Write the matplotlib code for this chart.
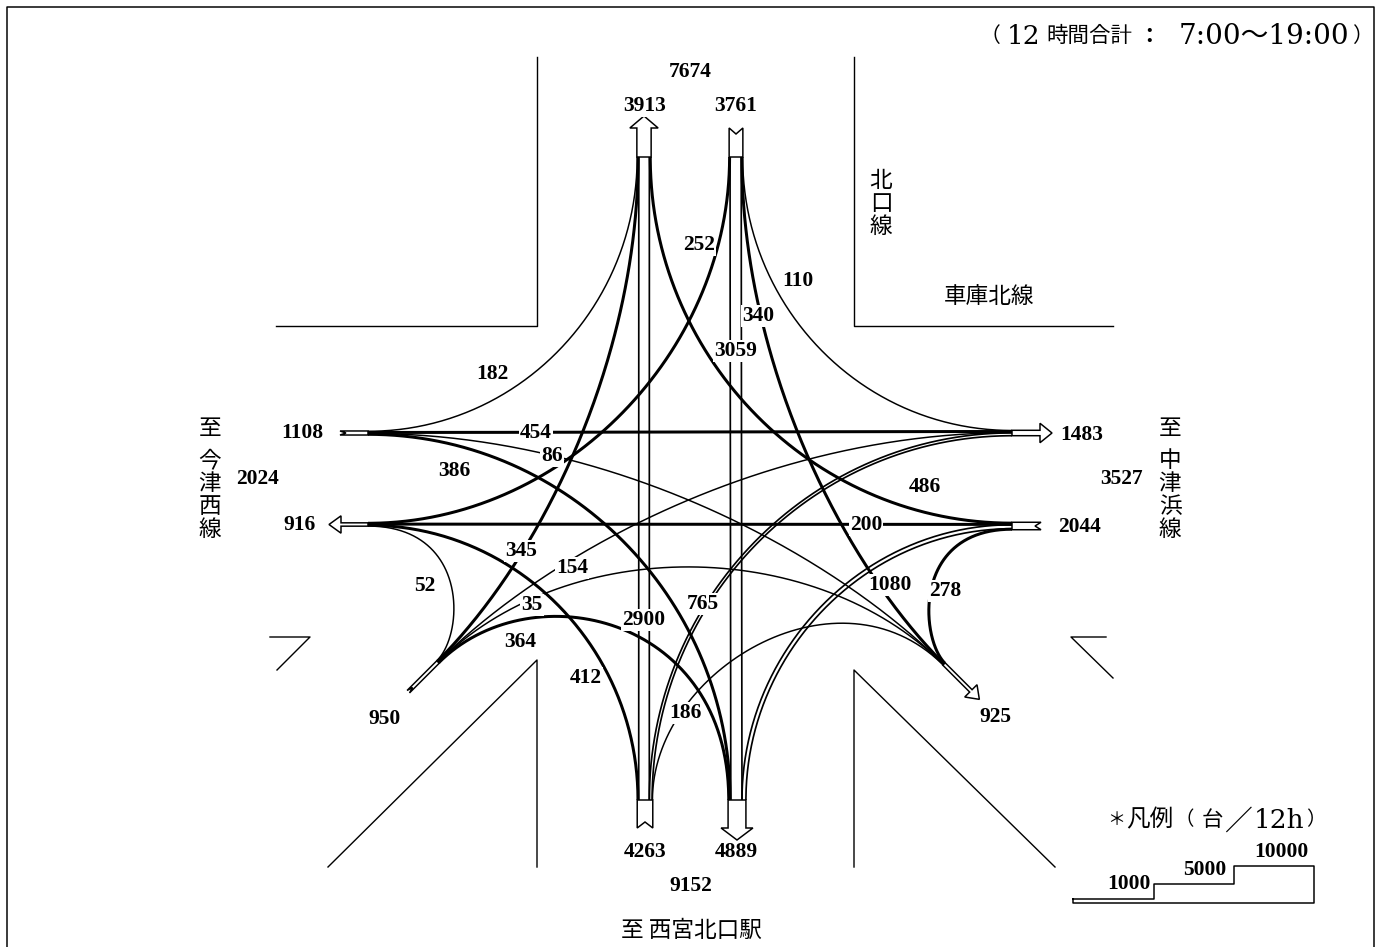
import numpy as np
import matplotlib
matplotlib.use("Agg")
import matplotlib.pyplot as plt

# 12 hour turning volumes: origin, destination, vehicles
flow_from = ["N_in", "N_in", "N_in", "N_in",
             "W_in", "W_in", "W_in", "W_in",
             "E_in", "E_in", "E_in", "E_in",
             "S_in", "S_in", "S_in", "S_in",
             "SW_in", "SW_in", "SW_in", "SW_in", "SW_in"]
flow_to = ["S_out", "W_out", "E_out", "SE_out",
           "N_out", "E_out", "SE_out", "S_out",
           "N_out", "W_out", "S_out", "SE_out",
           "N_out", "W_out", "E_out", "SE_out",
           "W_out", "E_out", "SE_out", "S_out", "N_out"]
flow_vol = [3059, 252, 110, 340,
            182, 454, 86, 386,
            486, 200, 1080, 278,
            2900, 412, 765, 186,
            52, 154, 35, 364, 345]

legend_vals = [1000, 5000, 10000]

# order of the flows across each port
port_order = {
    "N_out": [182, 345, 2900, 486],
    "N_in": [252, 3059, 340, 110],
    "S_in": [412, 2900, 765, 186],
    "S_out": [364, 386, 3059, 1080],
    "W_in": [182, 454, 86, 386],
    "W_out": [252, 200, 412, 52],
    "E_out": [110, 454, 154, 765],
    "E_in": [486, 200, 1080, 278],
    "SW_in": [52, 345, 154, 35, 364],
    "SE_out": [278, 340, 86, 35, 186],
}

# layout of the diagram, in image pixels
PX_PER_VEH = 3.65 / 1000
r2 = np.sqrt(0.5)
ports = {  # centre, outward direction, across direction, shaft length
    "N_out": ((644, 157), (0, -1), (1, 0), 29),
    "N_in": ((736, 157), (0, -1), (1, 0), 29),
    "S_in": ((645, 800), (0, 1), (1, 0), 28),
    "S_out": ((737, 800), (0, 1), (1, 0), 28),
    "W_in": ((368, 433), (-1, 0), (0, 1), 28),
    "W_out": ((368, 524.5), (-1, 0), (0, 1), 27),
    "E_out": ((1012, 433), (1, 0), (0, 1), 28),
    "E_in": ((1012, 526), (1, 0), (0, 1), 29),
    "SW_in": ((438, 662), (-r2, r2), (r2, r2), 42),
    "SE_out": ((944, 664), (r2, r2), (-r2, r2), 38),
}
out_ports = ["N_out", "S_out", "W_out", "E_out", "SE_out"]

# bezier handle lengths per volume: at origin, at destination
handles = {
    3059: (200, 200), 252: (195, 195), 110: (150, 150), 340: (200, 150),
    182: (150, 150), 454: (200, 200), 86: (250, 150), 386: (200, 200),
    486: (200, 200), 200: (200, 200), 1080: (148, 148), 278: (100, 35),
    2900: (200, 200), 412: (150, 150), 765: (200, 200), 186: (130, 148),
    52: (40, 100), 154: (150, 250), 35: (182, 182), 364: (130, 185), 345: (150, 200),
}

label_pos = {
    "7674": (690, 72), "3913": (645, 106), "3761": (736, 106), "252": (699, 245),
    "110": (798, 281), "340": (758, 316), "3059": (736, 351), "182": (492, 374),
    "1108": (302, 433), "454": (536, 433), "1483": (1082, 435), "86": (552, 456),
    "386": (454, 471), "486": (925, 487), "3527": (1122, 479), "2024": (258, 479),
    "916": (300, 525), "200": (866, 525), "2044": (1080, 527), "345": (521, 551),
    "154": (572, 568), "1080": (890, 585), "278": (945, 591), "52": (425, 586),
    "35": (532, 605), "765": (703, 604), "2900": (644, 620), "364": (520, 642),
    "412": (586, 678), "186": (685, 713), "950": (385, 719), "925": (995, 717),
    "4263": (645, 852), "4889": (736, 852), "9152": (691, 886),
}

LW = 0.72  # points per pixel at dpi 100
SERIF = "Liberation Serif"
CJK = ["Noto Sans CJK JP", "DejaVu Sans"]
WIDE = ["DejaVu Serif", "Noto Sans CJK JP"]

fig = plt.figure(figsize=(13.81, 9.47), dpi=100)
ax = fig.add_axes([0, 0, 1, 1])
ax.set_xlim(0, 1381)
ax.set_ylim(947, 0)
ax.axis("off")

# frame
ax.plot([7, 7, 1374, 1374], [947, 7, 7, 947], color="k", lw=1.5 * LW)

# kerbs
kerbs = [
    ([537, 537, 276], [57, 326, 326]),
    ([854, 854, 1113], [57, 326, 326]),
    ([270, 310, 277], [637, 637, 670]),
    ([1106, 1071, 1113], [637, 637, 678]),
    ([328, 537, 537], [867, 660, 867]),
    ([1055, 854, 854], [867, 670, 867]),
]
for kx, ky in kerbs:
    ax.plot(kx, ky, color="k", lw=1.4 * LW)


def port_offset(port, vol):
    # centre of this flow inside the stacked port, measured across it
    order = port_order[port]
    widths = [v * PX_PER_VEH for v in order]
    total = sum(widths)
    i = order.index(vol)
    return sum(widths[:i]) + widths[i] / 2 - total / 2


def flow_curve(a, b, vol):
    ca, da, na, _ = ports[a]
    cb, db, nb, _ = ports[b]
    p0 = np.array(ca, float) + np.array(na) * port_offset(a, vol)
    p3 = np.array(cb, float) + np.array(nb) * port_offset(b, vol)
    h0, h1 = handles[vol]
    p1 = p0 - np.array(da) * h0
    p2 = p3 - np.array(db) * h1
    t = np.linspace(0, 1, 200)[:, None]
    return (1 - t) ** 3 * p0 + 3 * (1 - t) ** 2 * t * p1 + 3 * (1 - t) * t ** 2 * p2 + t ** 3 * p3


# arrow shafts and tails first
for name, (c, d, n, length) in ports.items():
    c = np.array(c, float)
    d = np.array(d, float)
    n = np.array(n, float)
    w = sum(port_order[name]) * PX_PER_VEH / 2
    end = c + d * length
    if name in out_ports:
        pts = [c - n * w, end - n * w, end - n * (w + 7), end + d * 12,
               end + n * (w + 7), end + n * w, c + n * w]
    else:
        pts = [c - n * w, end - n * w, end - d * 6, end + n * w, c + n * w]
    pts = np.array(pts)
    ax.fill(pts[:, 0], pts[:, 1], facecolor="white", edgecolor="k", lw=1.5 * LW, zorder=3)

# flows
for a, b, vol in zip(flow_from, flow_to, flow_vol):
    xy = flow_curve(a, b, vol)
    w = vol * PX_PER_VEH
    if vol >= 700:
        # big flows are two parallel lines, open in between
        tan = np.gradient(xy, axis=0)
        tan = tan / np.linalg.norm(tan, axis=1, keepdims=True)
        nrm = np.column_stack([-tan[:, 1], tan[:, 0]])
        for side in (-0.5, 0.5):
            off = xy + nrm * w * side
            ax.plot(off[:, 0], off[:, 1], color="k", lw=1.7 * LW, solid_capstyle="butt", zorder=4)
    else:
        lw = 3.0 if vol >= 200 else 1.5
        ax.plot(xy[:, 0], xy[:, 1], color="k", lw=lw * LW, solid_capstyle="butt", zorder=4)

# number labels
for s, (x, y) in label_pos.items():
    ax.text(x, y, s, ha="center", va="center", family=SERIF, weight="bold", fontsize=15.5,
            color="k", zorder=6, bbox=dict(facecolor="white", edgecolor="none", pad=0.8))

# road names, written vertically in the original
name_kw = dict(ha="center", va="center", family=CJK, fontsize=16.3, zorder=6)
ax.text(210, 428, "至", **name_kw)
ax.text(210, 495, "\n".join("今津西線"), linespacing=1.0, **name_kw)
ax.text(1170, 428, "至", **name_kw)
ax.text(1170, 495, "\n".join("中津浜線"), linespacing=1.0, **name_kw)
ax.text(881, 203, "\n".join("北口線"), linespacing=1.0, **name_kw)
ax.text(989, 297, "車庫北線", **name_kw)
ax.text(691, 930, "至 西宮北口駅", **name_kw)

# period note, set piece by piece since the digits are wide in the original
ax.text(990, 36, "（", ha="center", va="center", family=CJK, fontsize=15)
ax.text(1024, 36, "12", ha="center", va="center", family=WIDE, fontsize=19)
ax.text(1089, 36, "時間合計", ha="center", va="center", family=CJK, fontsize=15.5)
ax.text(1149, 36, "：", ha="center", va="center", family=CJK, fontsize=15.5, weight="bold")
ax.text(1264, 36, "7:00～19:00", ha="center", va="center", family=WIDE, fontsize=20)
ax.text(1362, 36, "）", ha="center", va="center", family=CJK, fontsize=15)

# legend: staircase drawn on the same width scale as the flows
base_y = 902.7
stair_x = [1073, 1154, 1234, 1314]
lx = [stair_x[0]]
ly = [base_y - legend_vals[0] * PX_PER_VEH]
for i, v in enumerate(legend_vals):
    lx += [stair_x[i + 1]]
    ly += [base_y - v * PX_PER_VEH]
    if i < len(legend_vals) - 1:
        lx += [stair_x[i + 1]]
        ly += [base_y - legend_vals[i + 1] * PX_PER_VEH]
lx += [stair_x[-1], stair_x[0], stair_x[0]]
ly += [base_y, base_y, base_y - legend_vals[0] * PX_PER_VEH]
ax.plot(lx, ly, color="k", lw=1.5 * LW)
step_label_x = [1129, 1205, 1281]
step_label_y = [884, 870, 852]
for v, x, y in zip(legend_vals, step_label_x, step_label_y):
    ax.text(x, y, str(v), ha="center", va="center", family=SERIF, weight="bold", fontsize=15.5)

ax.text(1116, 820, "＊", ha="center", va="center", family=CJK, fontsize=13)
ax.text(1150, 820, "凡例", ha="center", va="center", family=CJK, fontsize=17)
ax.text(1184, 820, "（", ha="center", va="center", family=CJK, fontsize=14)
ax.text(1212, 820, "台", ha="center", va="center", family=CJK, fontsize=15.5)
ax.text(1238, 822, "／", ha="center", va="center", family=CJK, fontsize=20)
ax.text(1279, 820, "12h", ha="center", va="center", family=WIDE, fontsize=19)
ax.text(1316, 820, "）", ha="center", va="center", family=CJK, fontsize=14)

fig.savefig("out.png", dpi=100)
